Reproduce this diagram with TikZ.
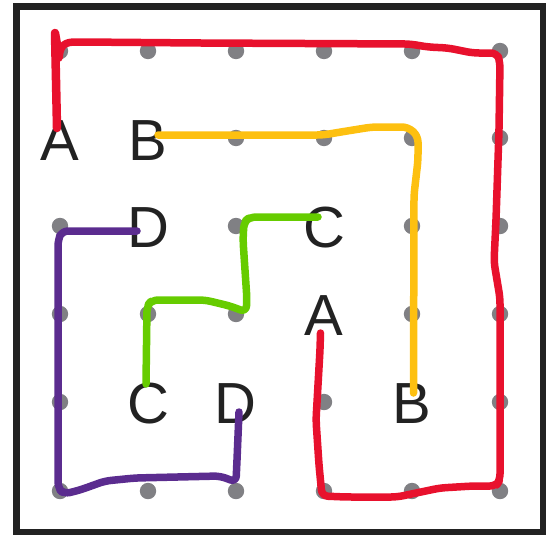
\documentclass[tikz,border=0pt]{standalone}
\usepackage{fontspec}
\setmainfont{Liberation Sans}
\usetikzlibrary{calc}
\definecolor{pred}{HTML}{E8112D}
\definecolor{pyellow}{HTML}{FDC010}
\definecolor{pgreen}{HTML}{66CC00}
\definecolor{ppurple}{HTML}{5B2C8F}
\definecolor{pdot}{HTML}{808084}
\definecolor{pink}{HTML}{222222}
\tikzset{
  gdot/.style={fill=pdot},
  letter/.style={inner sep=0pt, text height=41.5pt, text depth=0pt, anchor=center,
    font=\fontsize{58}{60}\selectfont, text=pink},
  stroke/.style={line width=7.5pt, line cap=round, line join=round, rounded corners=6pt},
  frame/.style={draw=pink, line width=6.5pt}
}
\begin{document}
\begin{tikzpicture}[x=1pt,y=-1pt]
\useasboundingbox (0,0) rectangle (546,538);
\draw[frame] (16.5,6.5) rectangle (543,532);
% grid dots (hidden where letters stand)
\foreach \x/\y in {60/51,148/51,236/51,324/51,412/51,500/51,
                   236/138,324/138,412/138,500/138,
                   60/226,236/226,412/226,500/226,
                   60/314,148/314,236/314,412/314,500/314,
                   60/402,324/402,500/402,
                   60/491,148/491,236/491,324/491,412/491,500/491}
  \fill[gdot] (\x,\y) circle (8.2);
% letters
\node[letter] (A1) at (60,140) {A};
\node[letter] (B1) at (148,140) {B};
\node[letter] (D1) at (148,227) {D};
\node[letter] (C1) at (324,227) {C};
\node[letter] (A2) at (323.5,315) {A};
\node[letter] (C2) at (148,403) {C};
\node[letter] (D2) at (235,403) {D};
\node[letter] (B2) at (411.5,403) {B};
% red path A -- A
\draw[stroke, pred, rounded corners=0pt, line width=8.5pt] ($(A1)+(-3,-12)$) -- (56,80) -- (55,33) -- (59,56);
\draw[stroke, pred] (59,58) .. controls (60,44) and (66,42) .. (82,42) -- (200,43) -- (410,44)
  -- (428,47) -- (448,48) -- (473,53) -- (497,53) -- (500,62) -- (499,130) -- (496,220)
  -- (494,262) -- (500,298) -- (500,480) -- (496,486) -- (473,486) -- (440,488)
  -- (397,497) -- (346,497) -- (322,496) -- (319,465) -- (316,420) -- (318,385)
  -- (320,350) -- ($(A2)+(-3,18)$);
% yellow path B -- B
\draw[stroke, pyellow] ($(B1)+(10,-5)$) -- (323,135) -- (347,131) -- (372,127) -- (408,127)
  -- (418,136) -- (418,160) -- (414,195) -- ($(B2)+(2,-10)$);
% green path C -- C
\draw[stroke, pgreen] ($(C1)+(-6,-10)$) -- (250,217) -- (244,222) -- (243,240) -- (247,300)
  -- (246,312) -- (230,306) -- (205,300) -- (152,300) -- (147,306) -- ($(C2)+(-2,-19)$);
% purple path D -- D
\draw[stroke, ppurple] ($(D1)+(-11,4)$) -- (62,231) -- (58,240) -- (58,488) -- (64,494)
  -- (80,490) -- (105,481) -- (135,478) -- (220,476) -- (236,482) -- (237,460) -- ($(D2)+(4,9)$);
\end{tikzpicture}
\end{document}
